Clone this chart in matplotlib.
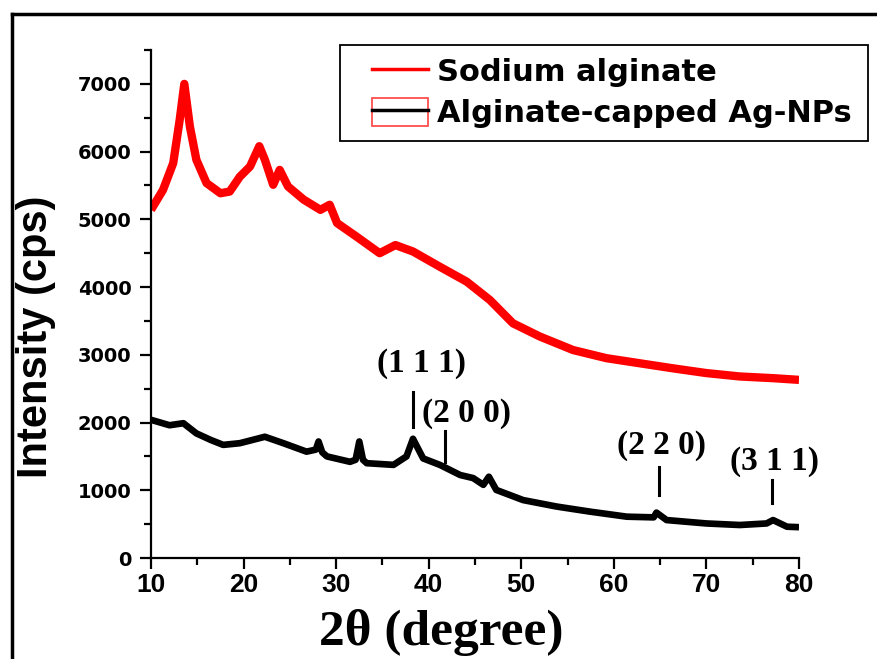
import numpy as np
import matplotlib; matplotlib.use("Agg")
import matplotlib.pyplot as plt
from matplotlib.lines import Line2D
from matplotlib.patches import Rectangle

# XRD patterns (2theta in degree, intensity in cps)
x_alg=[10,11.3,12.4,13.1,13.6,14.2,14.9,16.0,17.5,18.5,19.6,20.7,21.7,22.3,23.2,23.9,24.8,26.5,28.3,29.3,30.1,
       32.2,34.7,36.4,38.3,41.2,44.1,46.6,49.1,52,55.6,59.2,62.8,66.4,70,73.6,77.2,80]
y_alg=[5140,5435,5830,6470,7000,6370,5880,5535,5385,5410,5630,5780,6080,5880,5510,5730,5485,5290,5140,5215,4945,
       4745,4500,4620,4525,4300,4080,3810,3465,3270,3070,2950,2875,2800,2730,2680,2655,2630]
x_ag=[10,12,13.5,14.9,16.5,17.8,19.6,22.3,24.3,26.8,27.8,28.1,28.5,29,31.5,32.1,32.5,32.9,33.3,36.2,37.6,38.3,39.4,
      41.2,43.4,44.8,45.9,46.5,47.3,50.2,53.8,57.4,61.4,64.3,64.6,65.7,70,73.6,76.5,77.2,78.7,80]
y_ag=[2040,1960,1990,1840,1740,1670,1695,1790,1695,1570,1600,1720,1560,1500,1420,1450,1720,1450,1400,1375,1500,1760,1470,
      1375,1225,1180,1080,1200,1005,855,760,685,610,600,670,560,510,487,510,560,462,455]
# Ag fcc reflections: label, marker x, marker y0, y1, label x, label y
hkl=["(1 1 1)","(2 0 0)","(2 2 0)","(3 1 1)"]
hkl_x=[38.3,41.8,64.9,77.1]
hkl_y0=[1930,1420,930,810]; hkl_y1=[2450,1870,1350,1150]
lab_x=[39.2,44.1,65.2,77.3]; lab_y=[2870,2130,1660,1420]

fig=plt.figure(figsize=(8.77,6.59),dpi=100)
ax=fig.add_axes([151/877,1-558/659,648/877,(558-50)/659])
ax.plot(x_alg,y_alg,color="#ff0000",lw=6,solid_joinstyle="round",solid_capstyle="butt")
ax.plot(x_ag,y_ag,color="black",lw=4.8,solid_joinstyle="round",solid_capstyle="butt")
for t,x,a,b,lx,ly in zip(hkl,hkl_x,hkl_y0,hkl_y1,lab_x,lab_y):
    ax.plot([x,x],[a,b],color="black",lw=2.2)
    ax.text(lx,ly,t,ha="center",va="center",fontsize=24,fontweight="bold",family="Liberation Serif")
ax.set_xlim(10,80); ax.set_ylim(0,7500)
ax.set_xticks(range(10,81,10)); ax.set_xticks(range(15,80,10),minor=True)
ax.set_yticks(range(0,7001,1000)); ax.set_yticks(range(500,7501,1000),minor=True)
for s in ["top","right"]: ax.spines[s].set_visible(False)
for s in ["left","bottom"]: ax.spines[s].set_linewidth(1.6)
ax.tick_params(which="major",direction="out",length=8,width=1.6)
ax.tick_params(which="minor",direction="out",length=5,width=1.6)
ax.tick_params(axis="y",pad=6); ax.tick_params(axis="x",pad=3)
for l in ax.get_yticklabels(): l.set_fontsize(14); l.set_fontweight("bold"); l.set_family("DejaVu Sans")
for l in ax.get_xticklabels(): l.set_fontsize(19); l.set_fontweight("bold"); l.set_family(["Liberation Sans Narrow","Liberation Sans"])
fig.text(36/877,1-337/659,"Intensity (cps)",rotation=90,ha="center",va="center",fontsize=30,fontweight="bold",family="Liberation Sans")
fig.text(441/877,1-645/659,"2θ (degree)",ha="center",va="baseline",fontsize=37,fontweight="bold",family="Liberation Serif")

# legend: frame drawn separately so it can match the original box
fig.add_artist(Rectangle((340/877,1-141/659),528/877,96/659,fill=False,edgecolor="black",lw=1.3,transform=fig.transFigure))
h1=Line2D([],[],color="#ff0000",lw=2.5)
h2=(Rectangle((0,0),1,1,fill=False,edgecolor="#ff4040",lw=1.2),Line2D([],[],color="black",lw=2.5))
fs=22
leg=ax.legend([h1,h2],["Sodium alginate","Alginate-capped Ag-NPs"],loc="upper left",bbox_to_anchor=(366/877,1-51/659),
              bbox_transform=fig.transFigure,borderaxespad=0,frameon=False,handlelength=1.83,handleheight=1.0,
              handletextpad=0.3,borderpad=0.2,labelspacing=0.36,prop=dict(family="DejaVu Sans",weight="bold",size=fs))

# outer frame of the original panel
fig.add_artist(Line2D([12/877,12/877],[0,1-14/659],color="black",lw=2.5,transform=fig.transFigure))
fig.add_artist(Line2D([12/877,1],[1-14/659,1-14/659],color="black",lw=2.5,transform=fig.transFigure))
fig.savefig("out.png",dpi=100)
